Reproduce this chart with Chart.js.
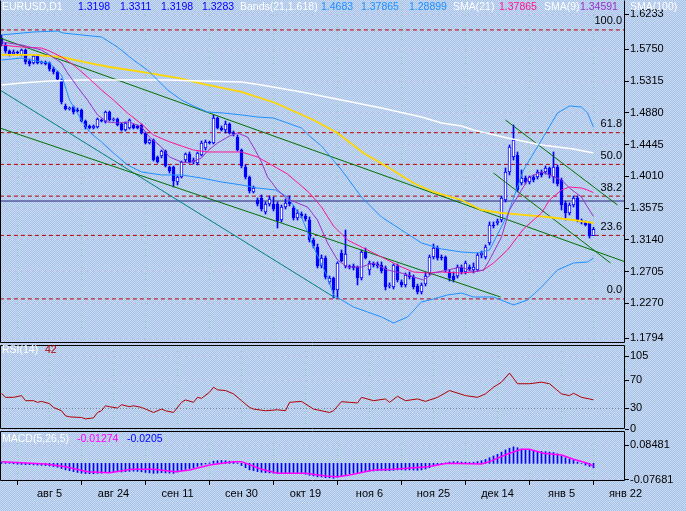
<!DOCTYPE html>
<html lang="ru"><head><meta charset="utf-8"><title>EURUSD,D1</title>
<script src="https://cdn.jsdelivr.net/npm/chart.js@4.4.1/dist/chart.umd.min.js"></script>
<style>
html,body{margin:0;padding:0}
body{width:686px;height:511px;overflow:hidden;position:relative;background-color:#b8ceee;font-family:"Liberation Sans",Arial,sans-serif}
canvas{position:absolute;left:0}
.t{position:absolute;font-size:10.5px;line-height:12px;white-space:nowrap}
</style></head><body>
<canvas id="cMain" width="686" height="348" style="top:0"></canvas>
<canvas id="cRsi" width="686" height="90" style="top:345px"></canvas>
<canvas id="cMacd" width="686" height="80" style="top:431px"></canvas>
<div class="t" style="left:2px;top:0;color:#fff">EURUSD,D1</div>
<div class="t" style="left:78px;top:0;color:#0000ff">1.3198</div>
<div class="t" style="left:120px;top:0;color:#0000ff">1.3311</div>
<div class="t" style="left:161px;top:0;color:#0000ff">1.3198</div>
<div class="t" style="left:202px;top:0;color:#0000ff">1.3283</div>
<div class="t" style="left:240px;top:0;color:#fff">Bands(21,1.618)</div>
<div class="t" style="left:321px;top:0;color:#1e90ff">1.4683</div>
<div class="t" style="left:361px;top:0;color:#1e90ff">1.37865</div>
<div class="t" style="left:409px;top:0;color:#1e90ff">1.28899</div>
<div class="t" style="left:453px;top:0;color:#fff">SMA(21)</div>
<div class="t" style="left:499px;top:0;color:#ff1493">1.37865</div>
<div class="t" style="left:544px;top:0;color:#fff">SMA(9)</div>
<div class="t" style="left:580px;top:0;color:#9932cc">1.34591</div>
<div class="t" style="left:630px;top:0;color:#fff">SMA(100)</div>
<div class="t" style="left:2px;top:343px;color:#fff">RSI(14)</div>
<div class="t" style="left:45px;top:343px;color:#b00000">42</div>
<div class="t" style="left:2px;top:432px;color:#fff">MACD(5,26,5)</div>
<div class="t" style="left:77px;top:432px;color:#ff00ff">-0.01274</div>
<div class="t" style="left:127px;top:432px;color:#0000ff">-0.0205</div>
<script>
// ---------- DATA ----------
const xTickIdx = [12,28,44,60,76,92,108,124,140,156];
const xTickLabels = ['авг 5','авг 24','сен 11','сен 30','окт 19','ноя 6','ноя 25','дек 14','янв 5','янв 22'];
const priceTicks = [1.1794,1.2270,1.2705,1.3140,1.3575,1.4010,1.4445,1.4880,1.5315,1.5750,1.6233];
const priceTickLabels = ['1.1794','1.2270','1.2705','1.3140','1.3575','1.4010','1.4445','1.4880','1.5315','1.5750','1.6233'];
const rsiTicks = [0,30,70,105];
const rsiTickLabels = ['0','30','70','105'];
const macdTicks = [-0.07681,0.08481];
const macdTickLabels = ['-0.07681','0.08481'];

const O = [1.5904,1.5809,1.5726,1.5685,1.5713,1.5672,1.5740,1.5589,1.5562,1.5658,
1.5562,1.5576,1.5562,1.5480,1.5439,1.5329,1.4973,1.4932,1.4959,1.4918,
1.4918,1.4767,1.4699,1.4671,1.4685,1.4781,1.4754,1.4891,1.4781,1.4795,
1.4726,1.4644,1.4671,1.4713,1.4699,1.4713,1.4603,1.4466,1.4507,1.4274,
1.4288,1.4356,1.4137,1.4137,1.3932,1.4000,1.4233,1.4315,1.4206,1.4192,
1.4302,1.4397,1.4480,1.4466,1.4808,1.4671,1.4644,1.4726,1.4603,1.4548,
1.4370,1.4137,1.4000,1.3795,1.3685,1.3713,1.3521,1.3630,1.3630,1.3630,
1.3411,1.3589,1.3658,1.3576,1.3439,1.3493,1.3466,1.3411,1.3137,1.3041,
1.2781,1.2891,1.2562,1.2617,1.2452,1.2959,1.2781,1.2781,1.2781,1.2767,
1.2617,1.2973,1.2726,1.2822,1.2808,1.2795,1.2754,1.2507,1.2493,1.2781,
1.2562,1.2521,1.2658,1.2630,1.2507,1.2425,1.2534,1.2685,1.2904,1.3027,
1.2904,1.2904,1.2699,1.2644,1.2644,1.2767,1.2699,1.2767,1.2726,1.2726,
1.2932,1.2904,1.3096,1.3343,1.3370,1.3411,1.3685,1.4069,1.4274,1.4302,
1.3918,1.3986,1.3932,1.4000,1.4000,1.4069,1.4069,1.4124,1.4000,1.4137,
1.3959,1.3644,1.3507,1.3617,1.3713,1.3411,1.3384,1.3370,1.3198];
const H = [1.5946,1.5836,1.5740,1.5740,1.5726,1.5754,1.5754,1.5617,1.5672,1.5672,
1.5589,1.5589,1.5576,1.5507,1.5452,1.5343,1.5000,1.4959,1.4973,1.4945,
1.4932,1.4781,1.4713,1.4713,1.4808,1.4795,1.4904,1.4904,1.4808,1.4808,
1.4740,1.4754,1.4795,1.4726,1.4713,1.4726,1.4617,1.4521,1.4521,1.4288,
1.4370,1.4370,1.4151,1.4151,1.4014,1.4219,1.4329,1.4343,1.4261,1.4343,
1.4493,1.4507,1.4493,1.4850,1.4822,1.4699,1.4767,1.4740,1.4630,1.4576,
1.4384,1.4165,1.4014,1.3877,1.3713,1.3754,1.3658,1.3740,1.3726,1.3658,
1.3617,1.3699,1.3740,1.3603,1.3548,1.3521,1.3493,1.3452,1.3164,1.3082,
1.2932,1.2918,1.2644,1.2630,1.2836,1.3000,1.3274,1.2795,1.2808,1.2781,
1.3000,1.3027,1.2849,1.2836,1.2836,1.2836,1.2781,1.2548,1.2808,1.2808,
1.2589,1.2685,1.2699,1.2658,1.2534,1.2548,1.2699,1.2932,1.3082,1.3055,
1.2932,1.2918,1.2726,1.2699,1.2795,1.2795,1.2849,1.2795,1.2822,1.2959,
1.2986,1.3069,1.3384,1.3384,1.3425,1.3740,1.4124,1.4439,1.4713,1.4343,
1.4096,1.4014,1.4014,1.4028,1.4096,1.4096,1.4151,1.4137,1.4343,1.4165,
1.3986,1.3671,1.3644,1.3740,1.3740,1.3425,1.3397,1.3384,1.3311];
const L = [1.5795,1.5699,1.5658,1.5672,1.5685,1.5658,1.5548,1.5521,1.5548,1.5548,
1.5548,1.5535,1.5452,1.5411,1.5329,1.5000,1.4918,1.4918,1.4863,1.4891,
1.4754,1.4658,1.4658,1.4658,1.4671,1.4754,1.4740,1.4767,1.4767,1.4699,
1.4630,1.4630,1.4658,1.4658,1.4658,1.4589,1.4452,1.4452,1.4219,1.4192,
1.4261,1.4137,1.4055,1.3863,1.3891,1.3986,1.4206,1.4192,1.4178,1.4165,
1.4288,1.4370,1.4452,1.4452,1.4658,1.4630,1.4603,1.4589,1.4562,1.4356,
1.4124,1.3973,1.3781,1.3781,1.3603,1.3534,1.3493,1.3603,1.3534,1.3301,
1.3384,1.3562,1.3603,1.3411,1.3411,1.3439,1.3397,1.3110,1.3027,1.2754,
1.2754,1.2603,1.2534,1.2342,1.2342,1.2836,1.2754,1.2740,1.2726,1.2521,
1.2589,1.2877,1.2658,1.2767,1.2754,1.2685,1.2452,1.2480,1.2466,1.2562,
1.2493,1.2493,1.2603,1.2466,1.2397,1.2397,1.2507,1.2658,1.2877,1.2863,
1.2863,1.2699,1.2575,1.2562,1.2617,1.2671,1.2671,1.2712,1.2685,1.2712,
1.2891,1.2877,1.3069,1.3301,1.3343,1.3384,1.3658,1.4028,1.4233,1.3795,
1.3891,1.3904,1.3904,1.3932,1.3973,1.4000,1.4041,1.3986,1.3918,1.3877,
1.3548,1.3411,1.3480,1.3589,1.3384,1.3356,1.3329,1.3164,1.3198];
const C = [1.5822,1.5726,1.5685,1.5713,1.5699,1.5740,1.5576,1.5548,1.5658,1.5562,
1.5576,1.5548,1.5480,1.5439,1.5343,1.5028,1.4932,1.4945,1.4891,1.4904,
1.4767,1.4685,1.4671,1.4699,1.4795,1.4767,1.4891,1.4781,1.4795,1.4713,
1.4644,1.4740,1.4781,1.4671,1.4671,1.4603,1.4466,1.4507,1.4233,1.4206,
1.4356,1.4151,1.4082,1.3945,1.4000,1.4206,1.4315,1.4206,1.4233,1.4329,
1.4466,1.4480,1.4466,1.4808,1.4671,1.4644,1.4726,1.4603,1.4589,1.4370,
1.4151,1.4000,1.3808,1.3849,1.3630,1.3562,1.3630,1.3699,1.3562,1.3397,
1.3589,1.3644,1.3630,1.3439,1.3507,1.3466,1.3425,1.3137,1.3055,1.2781,
1.2891,1.2630,1.2617,1.2452,1.2822,1.2849,1.2945,1.2767,1.2754,1.2617,
1.2973,1.2891,1.2822,1.2795,1.2781,1.2712,1.2493,1.2521,1.2795,1.2589,
1.2521,1.2658,1.2630,1.2493,1.2425,1.2521,1.2644,1.2904,1.3027,1.2891,
1.2891,1.2726,1.2617,1.2589,1.2767,1.2699,1.2822,1.2740,1.2767,1.2932,
1.2959,1.3041,1.3343,1.3329,1.3397,1.3713,1.4069,1.4411,1.4507,1.3822,
1.3986,1.3932,1.4000,1.3959,1.4069,1.4028,1.4124,1.4028,1.4137,1.3904,
1.3617,1.3507,1.3617,1.3713,1.3411,1.3384,1.3343,1.3192,1.3283];

const upperBand = [[0,1.5946],[8,1.5987],[14,1.6000],[15.5,1.5973],[20,1.5946],[25,1.5918],[29,1.5781],[33,1.5603],[36.5,1.5466],[39,1.5329],[41.5,1.5192],[45,1.5055],[48,1.4973],[51.5,1.4891],[55.5,1.4877],[60,1.4850],[64,1.4822],[68,1.4808],[71.5,1.4740],[75,1.4671],[77,1.4562],[80,1.4425],[85,1.4096],[90,1.3726],[95,1.3452],[100,1.3274],[105,1.3096],[110,1.3014],[115,1.2973],[119,1.2959],[122,1.3000],[126.5,1.3480],[130.5,1.4096],[135,1.4507],[139,1.4877],[142,1.4973],[145,1.4959],[146.5,1.4877],[148,1.4683]];
const lowerBand = [[0,1.5603],[5,1.5630],[10,1.5576],[12,1.5562],[15,1.5398],[17,1.5055],[20,1.4781],[22,1.4617],[25,1.4480],[28,1.4329],[31.5,1.4165],[35,1.4069],[40,1.4028],[45,1.4028],[50,1.3986],[55,1.3932],[60,1.3891],[64,1.3849],[68.5,1.3822],[71.5,1.3726],[75,1.3452],[78,1.3041],[81.5,1.2630],[83,1.2384],[88,1.2219],[91.5,1.2151],[95,1.2082],[98,1.2000],[101.5,1.2082],[105,1.2288],[108,1.2329],[111.5,1.2384],[115,1.2411],[118,1.2356],[123,1.2356],[128,1.2247],[131.5,1.2315],[135,1.2493],[139,1.2726],[143,1.2822],[146.5,1.2836],[148,1.28899]];
const sma21 = [[0,1.5809],[5,1.5781],[10,1.5767],[12,1.5726],[15,1.5644],[18,1.5535],[21.5,1.5370],[25,1.5192],[28,1.5055],[31.5,1.4877],[35,1.4726],[38,1.4576],[41.5,1.4493],[45,1.4425],[48,1.4370],[51.5,1.4343],[55.5,1.4343],[60,1.4343],[64,1.4274],[68,1.4151],[71.5,1.4041],[75,1.3877],[77,1.3781],[80,1.3589],[83,1.3329],[86.5,1.3137],[90,1.3041],[93,1.2959],[96.5,1.2863],[100,1.2767],[103,1.2699],[106.5,1.2685],[110,1.2699],[115,1.2685],[118,1.2699],[120.5,1.2726],[123,1.2822],[126.5,1.3000],[130.5,1.3288],[135,1.3507],[137,1.3685],[140,1.3822],[142,1.3863],[145,1.3849],[146.5,1.3822],[148,1.37865]];
const sma9 = [[0,1.5850],[5,1.5809],[10,1.5740],[12,1.5672],[15,1.5562],[16.5,1.5425],[19,1.5233],[21.5,1.5055],[24,1.4850],[26.5,1.4754],[29,1.4740],[32,1.4754],[35,1.4685],[37,1.4548],[40,1.4411],[42,1.4274],[45,1.4206],[47,1.4192],[50,1.4261],[51.5,1.4356],[54,1.4466],[57,1.4562],[59,1.4603],[61.5,1.4548],[63,1.4411],[65,1.4206],[66.5,1.4000],[69,1.3822],[71.5,1.3699],[74,1.3644],[76.5,1.3589],[79,1.3411],[81.5,1.3096],[84,1.2863],[86.5,1.2767],[90,1.2767],[93,1.2822],[96.5,1.2726],[100,1.2685],[103,1.2630],[105.5,1.2589],[108,1.2685],[111.5,1.2726],[115,1.2767],[118,1.2699],[120.5,1.2726],[122,1.2863],[125,1.3178],[127,1.3548],[130,1.3822],[132,1.4000],[135,1.4069],[137,1.4028],[140,1.3959],[142,1.3849],[145,1.3726],[146.5,1.3589],[148,1.34591]];
const maYellow = [[0,1.5672],[8,1.5672],[15,1.5644],[20.5,1.5576],[27,1.5507],[35,1.5439],[44,1.5357],[51.5,1.5261],[60,1.5165],[68.5,1.5014],[78,1.4781],[84,1.4603],[90.5,1.4329],[96.5,1.4137],[103,1.3918],[108,1.3795],[115,1.3685],[120,1.3548],[125,1.3507],[130.5,1.3480],[136.5,1.3452],[143,1.3411],[148,1.3370]];
const sma100 = [[0,1.5261],[5,1.5288],[12,1.5315],[20.5,1.5329],[33,1.5329],[41.5,1.5329],[50,1.5315],[60,1.5302],[65,1.5261],[75,1.5165],[85,1.5055],[95,1.4945],[105,1.4822],[110,1.4740],[115,1.4699],[118,1.4644],[126.5,1.4534],[135,1.4439],[143,1.4384],[148,1.4329]];

const trendA = [[-0.4,1.5904],[156,1.2836]];
const trendB = [[-0.4,1.4671],[124.75,1.2356]];
const trendC = [[-0.4,1.5192],[83.5,1.2342]];
const trendD = [[126,1.4781],[154,1.3617]];
const trendE = [[123,1.4055],[152.25,1.2822]];
const hLine = [[-0.4,1.3671],[156,1.3671]];
const fibPrices = [1.6015,1.4607,1.4173,1.3738,1.3200,1.2330];
const fibLabels = ['100.0','61.8','50.0','38.2','23.6','0.0'];

const rsi = [[0,51.5],[1,45.6],[3,45.6],[5,48.1],[6,40.8],[8,40.8],[9,38.4],[10,39.8],[12,36.5],[13,31.1],[15,26.3],[16,19.0],[17,17.5],[20,16.5],[21,14.6],[23,16.0],[24,23.8],[25,26.3],[26,33.5],[27,32.1],[29,30.2],[30,35.0],[32,32.1],[33,33.5],[35,31.1],[36,28.7],[38,23.8],[40,28.7],[41,26.3],[43,23.8],[45,38.4],[46,41.9],[48,38.4],[49,45.6],[50,44.2],[52,52.9],[53,60.2],[54,56.4],[56,55.4],[58,50.6],[60,40.8],[62,31.1],[63,28.7],[66,26.3],[69,27.7],[71,26.3],[72,38.4],[75,39.8],[78,28.7],[82,23.8],[83,26.3],[85,39.4],[87,38.4],[89,37.5],[90,45.6],[93,40.8],[96,43.3],[97,38.4],[99,47.1],[101,40.8],[104,43.3],[106,39.8],[109,45.6],[112,55.4],[116,48.1],[119,45.6],[121,50.6],[123,60.2],[125,67.5],[127,80.6],[129,65.2],[132,65.2],[135,67.5],[137,65.2],[140,50.6],[142,48.1],[143,51.5],[145,45.6],[147,43.3],[148,42]];

const macdHist = [0.004,0.002,0,-0.002,-0.004,-0.005,-0.006,-0.006,-0.007,-0.008,-0.009,
-0.010,-0.012,-0.015,-0.018,
-0.024,-0.030,-0.034,-0.038,-0.042,
-0.045,-0.047,-0.048,-0.048,-0.046,-0.045,-0.043,-0.041,
-0.040,-0.039,-0.040,-0.038,-0.037,-0.036,-0.037,-0.039,
-0.042,-0.044,-0.046,-0.045,-0.043,-0.044,-0.045,-0.046,
-0.040,-0.034,-0.028,-0.024,
-0.020,-0.014,-0.008,-0.003,0.002,
0.010,0.012,0.013,0.012,0.010,0.008,
0.002,-0.010,-0.020,-0.030,-0.034,
-0.038,-0.041,-0.043,-0.044,-0.045,-0.047,-0.046,-0.044,
-0.043,-0.045,-0.046,-0.048,-0.050,-0.055,
-0.058,-0.062,-0.063,-0.066,-0.067,-0.069,-0.064,-0.058,-0.052,
-0.048,-0.045,-0.043,-0.040,-0.038,-0.036,-0.035,
-0.034,-0.033,-0.034,-0.034,-0.032,-0.030,-0.030,-0.031,-0.030,-0.031,-0.032,-0.030,-0.026,-0.020,
-0.012,-0.006,-0.002,0.002,0.006,0.008,0.008,0.006,0.005,0.004,0.005,
0.008,0.012,0.018,0.026,0.034,0.042,
0.052,0.062,0.070,0.076,0.072,
0.066,0.062,0.060,0.058,0.056,0.055,
0.054,0.052,0.050,0.044,0.034,0.026,
0.020,0.014,0.006,0.000,-0.008,-0.014,-0.0205];
const macdSignal = [[0,0.0079],[5,0.0032],[11,-0.0028],[16,-0.0152],[21.5,-0.0383],[27,-0.0429],[32.5,-0.0272],[38,-0.0272],[43.5,-0.0383],[47,-0.0305],[52,-0.0074],[58,0.0079],[60,0.0079],[65,-0.0272],[69,-0.0457],[76,-0.0457],[81,-0.0582],[84,-0.0614],[87,-0.0536],[93,-0.0305],[98,-0.0272],[106.5,-0.0152],[111.5,0.0005],[120,-0.0028],[122,0.0079],[126.5,0.0434],[130,0.0651],[132,0.0651],[135.5,0.0466],[140,0.0388],[143,0.0189],[146.5,0.0005],[148,-0.01274]];

// ---------- RENDER ----------
(function(){
  const pc=document.createElement('canvas'); pc.width=2; pc.height=2;
  const g=pc.getContext('2d'); g.fillStyle='#a9c2e8'; g.fillRect(0,0,2,2);
  g.fillStyle='#c9daf3'; g.fillRect(0,0,1,1); g.fillRect(1,1,1,1);
  document.body.style.backgroundImage='url('+pc.toDataURL()+')';
})();

const FONT = '"Liberation Sans", Arial, sans-serif';
Chart.defaults.font.family = FONT;
const X_MIN = -0.375, X_MAX = 155.875;
const V_GRID = '#98cfc0', H_GRID = '#c4c0ee';

function xAxis(show){
  return {type:'linear', min:X_MIN, max:X_MAX, offset:false,
    afterBuildTicks:s=>{s.ticks=xTickIdx.map(v=>({value:v}));},
    afterFit:s=>{s.height = show?30:0; s.paddingLeft=0; s.paddingRight=0;},
    ticks:{display:show, color:'#000', font:{size:11}, padding:2, autoSkip:false, maxRotation:0, callback:(v,i)=>xTickLabels[i]},
    grid:{color:V_GRID, lineWidth:1, drawTicks:show, tickLength:4, tickColor:'#000', tickBorderDash:[]},
    border:{display:false, dash:[1,2]}
  };
}
function yAxis(min,max,vals,labels,gridColor){
  return {type:'linear', position:'right', min, max,
    afterBuildTicks:s=>{s.ticks=vals.map(v=>({value:v}));},
    afterFit:s=>{s.width=61; s.paddingTop=0; s.paddingBottom=0;},
    ticks:{color:'#000', font:{size:11}, padding:1, autoSkip:false, callback:(v,i)=>labels[i]},
    grid:{color:gridColor, lineWidth:1, drawTicks:true, tickLength:4, tickColor:'#000', tickBorderDash:[]},
    border:{display:false, dash:[1,2]}
  };
}
function frame(withTop){
  return {id:'frame', afterDraw(c){
    const a=c.chartArea, g=c.ctx; g.save(); g.strokeStyle='#000'; g.lineWidth=1; g.setLineDash([]);
    const l=a.left+0.5, r=a.right-0.5, t=a.top+0.5, b=a.bottom-0.5;
    g.beginPath();
    if(withTop){ g.rect(l,t,r-l,b-t); }
    else { g.moveTo(l,t); g.lineTo(l,b); g.lineTo(r,b); g.lineTo(r,t); }
    g.stroke(); g.restore();
  }};
}
const fibText = {id:'fibText', afterDatasetsDraw(c){
  const y=c.scales.y, a=c.chartArea, g=c.ctx; g.save();
  g.font='11px '+FONT; g.fillStyle='#000'; g.textAlign='right'; g.textBaseline='bottom';
  fibPrices.forEach((p,i)=>g.fillText(fibLabels[i], a.right-3, y.getPixelForValue(p)-3));
  g.restore();
}};
function line(data,color,width,order,extra){
  return Object.assign({type:'line', data, borderColor:color, borderWidth:width, pointRadius:0, tension:0, fill:false, order}, extra||{});
}
const common = {responsive:false, animation:false, events:[],
  plugins:{legend:{display:false}, tooltip:{enabled:false}}};

const mainDatasets = [
  line(sma9,'#9932cc',1,1),
  line(sma21,'#ff1493',1,2),
  line(upperBand,'#1e90ff',1,3),
  line(lowerBand,'#1e90ff',1,3),
  line(sma100,'#ffffff',1.5,4),
  line(maYellow,'#ffd700',1.8,5),
  line(trendA,'#007000',1,6),
  line(trendB,'#007000',1,6),
  line(trendC,'#008080',1,6),
  line(trendD,'#007000',1,6),
  line(trendE,'#007000',1,6),
  {type:'bar', order:7, grouped:false, barThickness:3, minBarLength:1, borderSkipped:false,
   data:O.map((o,i)=>({x:i, y:[o,C[i]]})),
   backgroundColor:O.map((o,i)=>C[i]>=o?'#ffffff':'#0000ff'), borderColor:'#0000ff', borderWidth:1},
  {type:'bar', order:8, grouped:false, barThickness:1,
   data:L.map((l,i)=>({x:i, y:[l,H[i]]})), backgroundColor:'#0000ff', borderWidth:0},
  line(hLine,'#27217a',1,9)
].concat(fibPrices.map(p=>line([[-0.4,p],[156,p]],'#b40000',1,10,{borderDash:[4,3]})));

new Chart(document.getElementById('cMain'), {
  type:'bar', data:{datasets:mainDatasets},
  options:Object.assign({}, common, {layout:{padding:{left:0,right:0,top:0,bottom:5}},
    scales:{x:xAxis(false), y:yAxis(1.17259,1.6425,priceTicks,priceTickLabels,H_GRID)}}),
  plugins:[frame(false), fibText]
});

new Chart(document.getElementById('cRsi'), {
  type:'line', data:{datasets:[line(rsi,'#b00000',1,1)]},
  options:Object.assign({}, common, {layout:{padding:{left:0,right:0,top:0,bottom:6}},
    scales:{x:xAxis(false), y:yAxis(0,121,rsiTicks,rsiTickLabels,ctx=>(ctx.tick&&ctx.tick.value===30)?'#7a8aa0':H_GRID)}}),
  plugins:[frame(true)]
});

new Chart(document.getElementById('cMacd'), {
  type:'bar', data:{datasets:[
    line(macdSignal,'#ff00ff',1.5,1),
    {type:'bar', order:2, grouped:false, barThickness:1, data:macdHist.map((v,i)=>({x:i,y:v})), backgroundColor:'#0000ff', borderWidth:0}
  ]},
  options:Object.assign({}, common, {layout:{padding:0},
    scales:{x:xAxis(true), y:yAxis(-0.08143,0.14946,macdTicks,macdTickLabels,H_GRID)}}),
  plugins:[frame(true)]
});
</script></body></html>
